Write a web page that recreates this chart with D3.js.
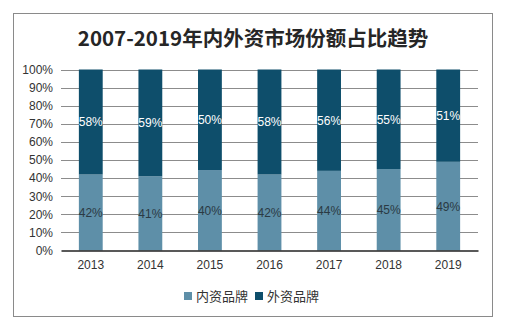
<!DOCTYPE html>
<html>
<head>
<meta charset="utf-8">
<script src="https://cdn.jsdelivr.net/npm/d3@7"></script>
<style>
  html, body { margin: 0; padding: 0; background: #fff; }
  svg { display: block; }
</style>
</head>
<body>
<svg id="chart" width="507" height="324"></svg>
<script>
// Market share of domestic vs. foreign brands, 2013–2019
const years = ["2013", "2014", "2015", "2016", "2017", "2018", "2019"];
const domestic = [42, 41, 40, 42, 44, 45, 49];
const foreign = [58, 59, 50, 58, 56, 55, 51];
const seriesNames = ["内资品牌", "外资品牌"];
const yTicks = [0, 0.1, 0.2, 0.3, 0.4, 0.5, 0.6, 0.7, 0.8, 0.9, 1];
const titleText = "2007-2019年内外资市场份额占比趋势";

const colors = ["#5e8fa8", "#0e4e6b"];
const font = "'Liberation Sans', Arial, 'Noto Sans CJK SC', sans-serif";
const cjkFont = "'Noto Sans CJK SC', 'Liberation Sans', sans-serif";

const svg = d3.select("#chart");

// outer frame
svg.append("rect")
  .attr("x", 13.5).attr("y", 13.5)
  .attr("width", 479).attr("height", 303)
  .attr("fill", "#fff").attr("stroke", "#8a8a8a").attr("stroke-width", 1);

// title
svg.append("text")
  .attr("x", 253).attr("y", 46)
  .attr("text-anchor", "middle")
  .attr("font-family", cjkFont)
  .attr("font-weight", "bold")
  .attr("font-size", 20.5)
  .attr("fill", "#262626")
  .text(titleText);

const margin = { left: 61, right: 478, top: 69.5, bottom: 250.5 };

const table = years.map((y, i) => ({ year: y, d: domestic[i], f: foreign[i] }));
const stack = d3.stack().keys(["d", "f"]).offset(d3.stackOffsetExpand);
const layers = stack(table);

const x = d3.scaleBand().domain(years).range([margin.left, margin.right]).paddingInner(0.6).paddingOuter(0.3);
const y = d3.scaleLinear().domain([0, 1]).range([margin.bottom, margin.top]);

// gridlines
svg.append("g")
  .selectAll("line")
  .data(yTicks.filter(t => t > 0))
  .join("line")
  .attr("x1", margin.left).attr("x2", margin.right)
  .attr("y1", d => Math.round(y(d)) + 0.5).attr("y2", d => Math.round(y(d)) + 0.5)
  .attr("stroke", "#8c8c8c").attr("stroke-width", 1);

// y axis labels
const yAxis = d3.axisLeft(y).tickValues(yTicks).tickFormat(d3.format(".0%")).tickSize(0).tickPadding(8);
const gy = svg.append("g").attr("transform", `translate(${margin.left},0)`).call(yAxis);
gy.select(".domain").remove();
gy.selectAll("text")
  .attr("font-family", font).attr("font-size", 12).attr("fill", "#333");

// bars
const groups = svg.append("g").selectAll("g")
  .data(layers)
  .join("g")
  .attr("fill", (d, i) => colors[i]);

groups.selectAll("rect")
  .data(d => d)
  .join("rect")
  .attr("x", d => x(d.data.year))
  .attr("width", x.bandwidth())
  .attr("y", d => y(d[1]))
  .attr("height", d => y(d[0]) - y(d[1]));

// value labels
const labelColors = ["#2b3a44", "#ffffff"];
layers.forEach((layer, li) => {
  svg.append("g").selectAll("text")
    .data(layer)
    .join("text")
    .attr("x", d => x(d.data.year) + x.bandwidth() / 2)
    .attr("y", d => y((d[0] + d[1]) / 2) + 4.5)
    .attr("text-anchor", "middle")
    .attr("font-family", font)
    .attr("font-size", 12)
    .attr("fill", labelColors[li])
    .text(d => d.data[layer.key] + "%");
});

// x axis
const xAxis = d3.axisBottom(x).tickSize(0).tickPadding(10);
const gx = svg.append("g").attr("transform", `translate(0,${margin.bottom})`).call(xAxis);
gx.select(".domain").attr("stroke", "#222").attr("stroke-width", 1.3);
gx.selectAll("text")
  .attr("font-family", font).attr("font-size", 12).attr("fill", "#333");

// legend
const legendItems = [{ x: 184, name: seriesNames[0], c: colors[0] }, { x: 255, name: seriesNames[1], c: colors[1] }];
const lg = svg.append("g");
legendItems.forEach(it => {
  lg.append("rect").attr("x", it.x).attr("y", 292).attr("width", 8).attr("height", 8).attr("fill", it.c);
  lg.append("text")
    .attr("x", it.x + 12).attr("y", 300.5)
    .attr("font-family", cjkFont).attr("font-size", 13).attr("fill", "#333")
    .text(it.name);
});
</script>
</body>
</html>
